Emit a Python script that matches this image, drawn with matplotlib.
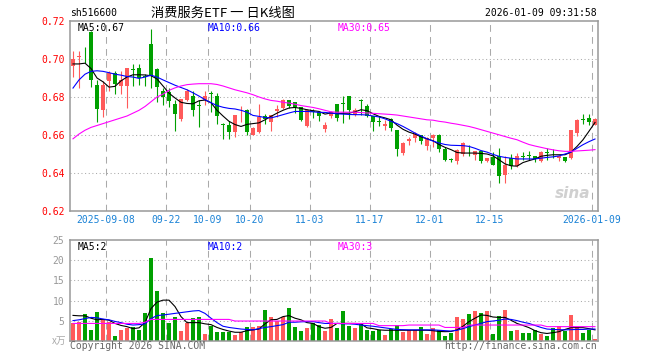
import matplotlib
matplotlib.use("Agg")
import matplotlib.pyplot as plt
import numpy as np

# 消费服务ETF sh516600, daily K line, 2025-08-29 .. 2026-01-09
opens = [0.6965, 0.7010, 0.7012, 0.7140, 0.6865, 0.6730, 0.6886, 0.6928, 0.6856, 0.6858,
         0.6946, 0.6953, 0.6910, 0.7080, 0.6950, 0.6832, 0.6824, 0.6765, 0.6684, 0.6786,
         0.6807, 0.6756, 0.6782, 0.6819, 0.6807, 0.6656, 0.6654, 0.6614, 0.6714, 0.6733,
         0.6602, 0.6614, 0.6702, 0.6666, 0.6724, 0.6742, 0.6786, 0.6775, 0.6747, 0.6645,
         0.6726, 0.6719, 0.6632, 0.6698, 0.6765, 0.6767, 0.6807, 0.6707, 0.6784, 0.6754,
         0.6698, 0.6674, 0.6645, 0.6684, 0.6624, 0.6504, 0.6566, 0.6584, 0.6602, 0.6544,
         0.6584, 0.6602, 0.6526, 0.6472, 0.6461, 0.6502, 0.6528, 0.6496, 0.6514, 0.6461,
         0.6484, 0.6488, 0.6391, 0.6479, 0.6438, 0.6490, 0.6493, 0.6488, 0.6465, 0.6511,
         0.6507, 0.6480, 0.6484, 0.6479, 0.6610, 0.6682, 0.6689, 0.6655]
closes = [0.7000, 0.7015, 0.7008, 0.6890, 0.6735, 0.6865, 0.6924, 0.6870, 0.6890, 0.6951,
          0.6942, 0.6902, 0.6906, 0.6910, 0.6852, 0.6800, 0.6777, 0.6712, 0.6789, 0.6830,
          0.6733, 0.6752, 0.6807, 0.6815, 0.6698, 0.6652, 0.6614, 0.6704, 0.6718, 0.6614,
          0.6637, 0.6695, 0.6684, 0.6707, 0.6737, 0.6786, 0.6754, 0.6750, 0.6677, 0.6733,
          0.6722, 0.6698, 0.6654, 0.6720, 0.6689, 0.6763, 0.6729, 0.6733, 0.6780, 0.6702,
          0.6666, 0.6670, 0.6659, 0.6637, 0.6526, 0.6559, 0.6579, 0.6603, 0.6566, 0.6584,
          0.6602, 0.6526, 0.6470, 0.6468, 0.6523, 0.6558, 0.6524, 0.6514, 0.6461, 0.6479,
          0.6444, 0.6382, 0.6444, 0.6435, 0.6491, 0.6486, 0.6489, 0.6472, 0.6512, 0.6507,
          0.6503, 0.6490, 0.6461, 0.6624, 0.6680, 0.6678, 0.6666, 0.6686]
highs = [0.7040, 0.7040, 0.7065, 0.7150, 0.6890, 0.6886, 0.6936, 0.6936, 0.6936, 0.6955,
         0.6976, 0.6973, 0.6920, 0.7160, 0.6952, 0.6845, 0.6847, 0.6786, 0.6790, 0.6840,
         0.6830, 0.6786, 0.6830, 0.6830, 0.6823, 0.6664, 0.6673, 0.6707, 0.6754, 0.6735,
         0.6640, 0.6765, 0.6712, 0.6707, 0.6756, 0.6790, 0.6786, 0.6775, 0.6747, 0.6736,
         0.6736, 0.6719, 0.6670, 0.6726, 0.6765, 0.6807, 0.6807, 0.6742, 0.6790, 0.6765,
         0.6698, 0.6698, 0.6677, 0.6690, 0.6624, 0.6565, 0.6590, 0.6615, 0.6602, 0.6590,
         0.6606, 0.6604, 0.6535, 0.6480, 0.6525, 0.6565, 0.6550, 0.6516, 0.6516, 0.6481,
         0.6510, 0.6533, 0.6488, 0.6500, 0.6505, 0.6510, 0.6515, 0.6492, 0.6515, 0.6530,
         0.6525, 0.6492, 0.6486, 0.6626, 0.6682, 0.6710, 0.6710, 0.6688]
lows = [0.6905, 0.6850, 0.6980, 0.6855, 0.6670, 0.6694, 0.6830, 0.6818, 0.6815, 0.6740,
        0.6858, 0.6862, 0.6860, 0.6850, 0.6775, 0.6757, 0.6750, 0.6619, 0.6675, 0.6780,
        0.6698, 0.6644, 0.6757, 0.6722, 0.6657, 0.6579, 0.6580, 0.6588, 0.6670, 0.6600,
        0.6598, 0.6610, 0.6660, 0.6620, 0.6696, 0.6738, 0.6740, 0.6716, 0.6672, 0.6640,
        0.6690, 0.6675, 0.6618, 0.6690, 0.6672, 0.6663, 0.6682, 0.6700, 0.6707, 0.6696,
        0.6619, 0.6645, 0.6628, 0.6620, 0.6490, 0.6495, 0.6550, 0.6565, 0.6553, 0.6520,
        0.6535, 0.6510, 0.6465, 0.6460, 0.6450, 0.6490, 0.6490, 0.6470, 0.6455, 0.6458,
        0.6440, 0.6349, 0.6349, 0.6420, 0.6430, 0.6470, 0.6470, 0.6456, 0.6460, 0.6470,
        0.6480, 0.6465, 0.6456, 0.6476, 0.6595, 0.6660, 0.6655, 0.6652]

ma5 = [0.6974, 0.6974, 0.6978, 0.6950, 0.6900, 0.6880, 0.6852, 0.6856, 0.6885, 0.6905,
       0.6917, 0.6917, 0.6916, 0.6912, 0.6895, 0.6858, 0.6820, 0.6795, 0.6772, 0.6766,
       0.6764, 0.6780, 0.6784, 0.6770, 0.6730, 0.6700, 0.6672, 0.6655, 0.6645, 0.6656,
       0.6660, 0.6664, 0.6680, 0.6698, 0.6715, 0.6730, 0.6742, 0.6745, 0.6740, 0.6733,
       0.6728, 0.6724, 0.6710, 0.6716, 0.6712, 0.6714, 0.6715, 0.6722, 0.6733, 0.6728,
       0.6712, 0.6698, 0.6690, 0.6680, 0.6652, 0.6630, 0.6615, 0.6605, 0.6590, 0.6580,
       0.6570, 0.6550, 0.6535, 0.6523, 0.6508, 0.6505, 0.6505, 0.6505, 0.6503, 0.6500,
       0.6490, 0.6470, 0.6448, 0.6438, 0.6436, 0.6455, 0.6465, 0.6474, 0.6488, 0.6493,
       0.6496, 0.6496, 0.6496, 0.6510, 0.6540, 0.6575, 0.6620, 0.6666]
ma10 = [0.6847, 0.6890, 0.6920, 0.6935, 0.6938, 0.6935, 0.6928, 0.6920, 0.6915, 0.6908,
        0.6905, 0.6898, 0.6905, 0.6915, 0.6905, 0.6890, 0.6876, 0.6862, 0.6850, 0.6838,
        0.6822, 0.6805, 0.6786, 0.6770, 0.6755, 0.6746, 0.6740, 0.6737, 0.6730, 0.6720,
        0.6703, 0.6698, 0.6692, 0.6690, 0.6698, 0.6707, 0.6716, 0.6724, 0.6724, 0.6724,
        0.6722, 0.6719, 0.6719, 0.6715, 0.6712, 0.6710, 0.6708, 0.6707, 0.6707, 0.6705,
        0.6700, 0.6695, 0.6685, 0.6672, 0.6660, 0.6645, 0.6628, 0.6610, 0.6595, 0.6580,
        0.6568, 0.6558, 0.6550, 0.6546, 0.6545, 0.6544, 0.6540, 0.6530, 0.6518, 0.6510,
        0.6498, 0.6488, 0.6482, 0.6478, 0.6474, 0.6474, 0.6474, 0.6474, 0.6478, 0.6482,
        0.6485, 0.6490, 0.6500, 0.6510, 0.6530, 0.6549, 0.6565, 0.6579]
ma30 = [0.6580, 0.6605, 0.6625, 0.6640, 0.6650, 0.6660, 0.6670, 0.6680, 0.6690, 0.6700,
        0.6715, 0.6730, 0.6750, 0.6775, 0.6800, 0.6815, 0.6835, 0.6848, 0.6858, 0.6865,
        0.6868, 0.6870, 0.6870, 0.6870, 0.6866, 0.6858, 0.6848, 0.6838, 0.6830, 0.6822,
        0.6812, 0.6800, 0.6790, 0.6782, 0.6778, 0.6772, 0.6768, 0.6762, 0.6755, 0.6750,
        0.6745, 0.6738, 0.6730, 0.6722, 0.6720, 0.6720, 0.6720, 0.6720, 0.6718, 0.6716,
        0.6714, 0.6712, 0.6710, 0.6708, 0.6705, 0.6700, 0.6695, 0.6690, 0.6685, 0.6680,
        0.6678, 0.6672, 0.6668, 0.6662, 0.6657, 0.6651, 0.6645, 0.6637, 0.6628, 0.6619,
        0.6610, 0.6601, 0.6592, 0.6583, 0.6575, 0.6562, 0.6550, 0.6542, 0.6535, 0.6528,
        0.6522, 0.6517, 0.6514, 0.6514, 0.6516, 0.6518, 0.6520, 0.6523]

# volume, in 万
vols = [4.5, 4.6, 6.6, 2.7, 7.1, 5.4, 4.6, 1.2, 2.7, 3.1,
        3.3, 2.6, 6.8, 20.6, 12.4, 6.8, 4.5, 5.9, 2.4, 4.5,
        5.6, 5.9, 1.7, 3.75, 2.2, 2.2, 2.25, 1.4, 2.1, 3.4,
        3.5, 3.75, 7.7, 5.9, 5.0, 5.9, 8.2, 3.4, 2.4, 3.1,
        4.4, 3.9, 2.5, 5.4, 3.25, 7.4, 3.75, 3.2, 4.1, 2.7,
        2.4, 2.7, 1.4, 2.9, 3.9, 2.25, 2.7, 2.7, 3.4, 1.7,
        3.1, 2.7, 1.2, 2.0, 5.9, 5.4, 6.7, 7.4, 6.9, 7.4,
        1.7, 6.2, 7.7, 2.4, 2.7, 1.9, 1.9, 2.7, 1.7, 1.2,
        3.2, 3.7, 2.4, 6.4, 3.5, 1.9, 2.7, 0.4]
vma5 = [6.3, 6.2, 6.2, 5.6, 5.2, 5.3, 5.1, 4.3, 3.8, 3.5,
        3.0, 3.2, 4.5, 8.0, 9.6, 10.1, 10.1, 8.5, 6.0, 4.5,
        4.5, 4.5, 4.2, 4.0, 3.3, 2.8, 2.4, 2.1, 2.1, 2.5,
        2.7, 2.9, 4.2, 5.2, 5.3, 6.0, 6.25, 5.6, 5.2, 4.5,
        4.3, 3.5, 3.1, 3.3, 4.3, 4.3, 4.3, 4.3, 4.2, 3.2,
        3.0, 2.7, 2.6, 2.6, 2.6, 2.6, 2.6, 2.6, 2.6, 2.6,
        2.5, 2.3, 2.25, 2.3, 2.7, 3.6, 4.75, 5.6, 6.4, 6.3,
        5.9, 5.8, 5.8, 5.1, 4.3, 3.8, 3.25, 2.5, 2.0, 1.8,
        2.0, 2.25, 2.8, 3.25, 3.25, 3.25, 3.0, 2.7]
vma10 = [5.0, 5.2, 5.5, 5.8, 5.7, 5.4, 5.2, 4.8, 4.5, 4.1,
         3.9, 4.0, 4.2, 5.5, 6.25, 6.4, 6.6, 6.8, 7.0, 7.2,
         7.4, 7.5, 6.8, 5.6, 4.5, 3.6, 3.3, 3.1, 2.9, 2.8,
         2.7, 3.0, 3.3, 3.5, 3.75, 4.0, 4.6, 4.6, 4.7, 4.75,
         4.75, 4.5, 4.3, 4.3, 4.3, 4.2, 4.2, 4.1, 3.9, 3.75,
         3.6, 3.4, 3.2, 3.0, 2.8, 2.75, 2.7, 2.7, 2.7, 2.7,
         2.7, 2.6, 2.5, 2.4, 2.6, 3.0, 3.5, 3.9, 4.3, 4.75,
         4.9, 5.1, 5.4, 5.3, 5.0, 4.6, 4.3, 3.8, 3.3, 2.9,
         2.8, 2.75, 2.7, 2.75, 2.8, 2.8, 2.9, 2.9]
vma30 = [4.3, 4.3, 4.3, 4.3, 4.3, 4.3, 4.3, 4.3, 4.3, 4.3,
         4.3, 4.3, 4.6, 5.3, 5.3, 5.3, 5.3, 5.3, 5.3, 5.3,
         5.3, 5.3, 5.3, 5.3, 5.3, 5.3, 5.3, 4.9, 4.9, 4.9,
         4.9, 4.9, 4.9, 4.9, 4.9, 4.9, 4.9, 4.9, 4.9, 4.9,
         4.9, 4.9, 4.9, 4.3, 4.3, 4.3, 4.3, 4.3, 4.3, 4.3,
         4.3, 3.75, 3.75, 3.75, 3.75, 3.75, 3.9, 3.9, 3.9, 3.9,
         3.9, 3.9, 3.3, 3.3, 3.3, 3.3, 3.9, 3.9, 3.9, 3.9,
         3.9, 3.9, 3.9, 3.9, 3.9, 3.9, 3.9, 3.9, 3.9, 3.5,
         3.5, 3.5, 3.5, 3.5, 3.5, 3.5, 3.5, 3.5]

date_idx = [6, 16, 23, 30, 40, 50, 60, 70, 87]
date_labels = ['2025-09-08', '09-22', '10-09', '10-20', '11-03',
               '11-17', '12-01', '12-15', '2026-01-09']
price_ticks = [0.62, 0.64, 0.66, 0.68, 0.70, 0.72]
vol_ticks = [5, 10, 15, 20, 25]

RED = '#ff5a5a'
GREEN = '#00a000'
MONO = 'DejaVu Sans Mono'
FS = 7

x = np.arange(len(closes))
o = np.array(opens)
c = np.array(closes)
up = c >= o
cols = [RED if u else GREEN for u in up]

fig = plt.figure(figsize=(6.6, 3.6), dpi=100)
ax1 = fig.add_axes([70/660, 149/360, 528/660, 190/360])
ax2 = fig.add_axes([70/660, 19.3/360, 528/660, 100.4/360])

for ax in (ax1, ax2):
    ax.set_xlim(-0.5, len(x) - 0.5)
    for s in ax.spines.values():
        s.set_color('#999999')
        s.set_linewidth(1.1)
    ax.tick_params(length=0)
    for d in date_idx:
        ax.axvline(d - 0.5, color='#aaaaaa', lw=0.75, ls=(0, (6.5, 5)), zorder=0)

# price panel
ax1.set_ylim(0.62, 0.72)
for v in price_ticks[1:-1]:
    ax1.axhline(v, color='#aaaaaa', lw=0.75, ls=(0, (1, 2.5)), zorder=0)
ax1.vlines(x, lows, highs, colors=cols, lw=0.8, zorder=2)
body = np.maximum(np.abs(c - o), 0.0004)
ax1.bar(x, body, bottom=np.minimum(o, c), width=0.82, color=cols, lw=0, zorder=3)
ax1.plot(x, ma5, color='black', lw=0.8, zorder=4)
ax1.plot(x, ma10, color='#0000ff', lw=0.8, zorder=4)
ax1.plot(x, ma30, color='#ff00ff', lw=0.8, zorder=4)
ax1.set_yticks(price_ticks)
ax1.set_yticklabels(['%.2f' % v for v in price_ticks], color='red',
                    fontsize=FS, family=MONO)
ax1.tick_params(axis='y', pad=4)
ax1.set_xticks([d - 0.5 for d in date_idx])
ax1.set_xticklabels(date_labels, color='#1a82d6', fontsize=FS, family=MONO)
ax1.tick_params(axis='x', pad=3)
ax1.text(0.75, 0.7165, 'MA5:0.67', fontsize=FS, family=MONO, color='black', va='center')
ax1.text(22.4, 0.7165, 'MA10:0.66', fontsize=FS, family=MONO, color='#0000ff', va='center')
ax1.text(44.1, 0.7165, 'MA30:0.65', fontsize=FS, family=MONO, color='#ff00ff', va='center')
# sina watermark
ax1.text(0.985, 0.05, 'sina', transform=ax1.transAxes, ha='right', va='bottom',
         fontsize=11, fontweight='bold', style='italic', color='#d0d0d0', zorder=1)

# volume panel
ax2.set_ylim(0, 25)
for v in vol_ticks[:-1]:
    ax2.axhline(v, color='#aaaaaa', lw=0.75, ls=(0, (1, 2.5)), zorder=0)
ax2.bar(x, vols, width=0.82, color=cols, lw=0, zorder=2)
ax2.plot(x, vma5, color='black', lw=0.8, zorder=3)
ax2.plot(x, vma10, color='#0000ff', lw=0.8, zorder=3)
ax2.plot(x, vma30, color='#ff00ff', lw=0.8, zorder=3)
ax2.set_yticks(vol_ticks)
ax2.set_yticklabels([str(v) for v in vol_ticks], color='#999999', fontsize=FS, family=MONO)
ax2.tick_params(axis='y', pad=4)
ax2.set_xticks([])
ax2.text(0.75, 23.4, 'MA5:2', fontsize=FS, family=MONO, color='black', va='center')
ax2.text(22.4, 23.4, 'MA10:2', fontsize=FS, family=MONO, color='#0000ff', va='center')
ax2.text(44.1, 23.4, 'MA30:3', fontsize=FS, family=MONO, color='#ff00ff', va='center')

# header / footer
fig.text(70/660, 1 - 13/360, 'sh516600', fontsize=FS, family=MONO, va='center')
fig.text(223/660, 1 - 13/360, '消费服务ETF 一 日K线图', fontsize=9.5, ha='center', va='center',
         family=['Noto Sans CJK SC', 'DejaVu Sans'])
fig.text(597/660, 1 - 13/360, '2026-01-09 09:31:58', fontsize=FS, family=MONO,
         ha='right', va='center')
fig.text(66/660, 1 - 341/360, 'x万', fontsize=7, color='#aaaaaa', ha='right', va='center',
         family=['Noto Sans CJK SC', 'DejaVu Sans'])
fig.text(70/660, 1 - 346/360, 'Copyright 2026 SINA.COM', fontsize=FS, family=MONO,
         color='#666666', va='center')
fig.text(597/660, 1 - 346/360, 'http://finance.sina.com.cn', fontsize=FS, family=MONO,
         color='#666666', ha='right', va='center')

fig.savefig('out.png', dpi=100)
